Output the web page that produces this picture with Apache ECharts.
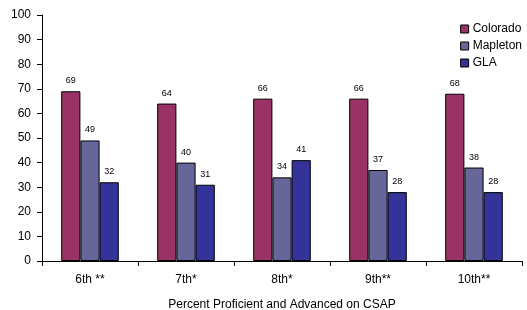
<!DOCTYPE html>
<html>
<head>
<meta charset="utf-8">
<script src="https://cdn.jsdelivr.net/npm/echarts@6/dist/echarts.min.js"></script>
<style>
  html, body { margin: 0; padding: 0; background: #fff; }
  #chart { width: 527px; height: 310px; }
</style>
</head>
<body>
<div id="chart"></div>
<script>
var categories = ["6th **", "7th*", "8th*", "9th**", "10th**"];
var colorado = [69, 64, 66, 66, 68];
var mapleton = [49, 40, 34, 37, 38];
var gla = [32, 31, 41, 28, 28];
var yTicks = [0, 10, 20, 30, 40, 50, 60, 70, 80, 90, 100];

var chart = echarts.init(document.getElementById("chart"));

function makeSeries(name, data, color) {
  return {
    name: name,
    type: "bar",
    data: data,
    barGap: "0%",
    barCategoryGap: "40%",
    itemStyle: { color: color, borderColor: "#000", borderWidth: 1 },
    label: {
      show: true,
      position: "top",
      distance: 6,
      fontSize: 9,
      fontFamily: "Liberation Sans",
      color: "#000"
    }
  };
}

var options = {
  animation: false,
  backgroundColor: "#fff",
  textStyle: { fontFamily: "Liberation Sans" },
  legend: {
    orient: "vertical",
    right: 0,
    top: 18,
    itemWidth: 8,
    itemHeight: 8,
    itemGap: 5,
    icon: "rect",
    itemStyle: { borderColor: "#000", borderWidth: 1 },
    textStyle: { fontSize: 12, color: "#000", padding: [0, 0, 0, -1] },
    data: ["Colorado", "Mapleton", "GLA"]
  },
  grid: { left: 42, right: 5, top: 15, bottom: 49, outerBoundsMode: "none" },
  xAxis: {
    type: "category",
    data: categories,
    name: "Percent Proficient and Advanced on CSAP",
    nameLocation: "middle",
    nameGap: 38,
    nameTextStyle: { fontSize: 12, color: "#000" },
    axisLine: { lineStyle: { color: "#000" } },
    axisTick: { show: true, length: 5, inside: false, lineStyle: { color: "#000" } },
    axisLabel: { fontSize: 12, color: "#000", margin: 13 }
  },
  yAxis: {
    type: "value",
    min: yTicks[0],
    max: yTicks[yTicks.length - 1],
    interval: 10,
    axisLine: { show: true, lineStyle: { color: "#000" } },
    axisTick: { show: true, length: 5, lineStyle: { color: "#000" } },
    axisLabel: { fontSize: 12, color: "#000", margin: 11 },
    splitLine: { show: false }
  },
  series: [
    makeSeries("Colorado", colorado, "#993366"),
    makeSeries("Mapleton", mapleton, "#666699"),
    makeSeries("GLA", gla, "#333399")
  ]
};

chart.setOption(options);
</script>
</body>
</html>
